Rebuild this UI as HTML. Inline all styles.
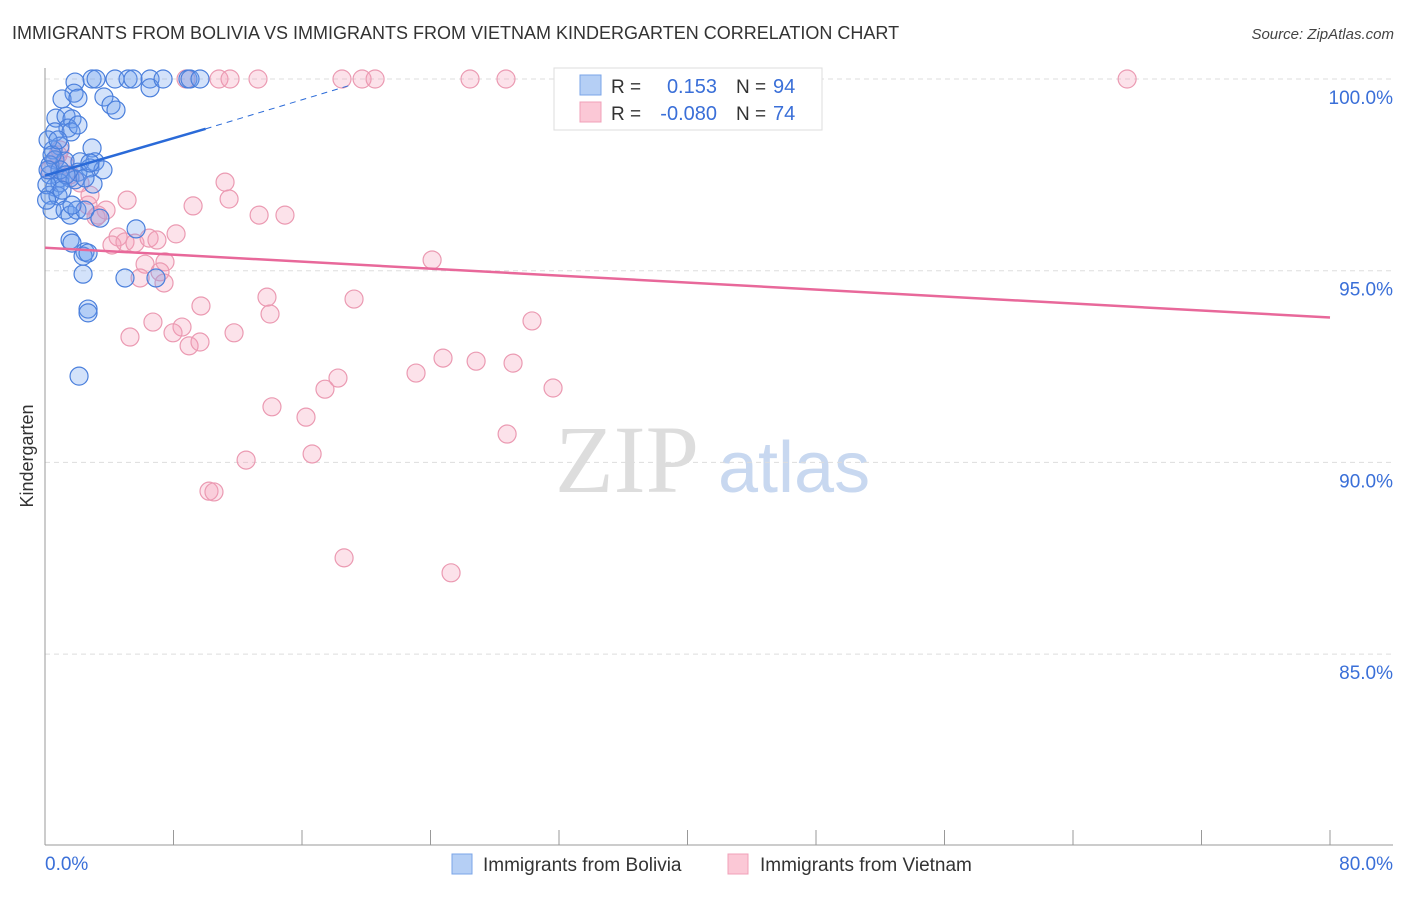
<!DOCTYPE html>
<html><head><meta charset="utf-8"><style>
body{margin:0;background:#fff;font-family:"Liberation Sans",sans-serif}
</style></head><body>
<svg id="chart" width="1406" height="892" xmlns="http://www.w3.org/2000/svg" font-family="Liberation Sans, sans-serif">
<text x="12" y="39" font-size="18" fill="#333">IMMIGRANTS FROM BOLIVIA VS IMMIGRANTS FROM VIETNAM KINDERGARTEN CORRELATION CHART</text>
<text x="1394" y="39" font-size="15" fill="#444" text-anchor="end" font-style="italic">Source: ZipAtlas.com</text>
<g>
<text x="555" y="492" font-size="96" font-family="Liberation Serif, serif" fill="#ddd">ZIP</text>
<text x="718" y="492" font-size="72" fill="#c8d8f0">atlas</text>
</g>
<g id="grid"></g>
<g id="axes"></g>
<g id="pts"></g>
<g id="trend"></g>
<text transform="translate(33,456) rotate(-90)" font-size="18" fill="#333" text-anchor="middle">Kindergarten</text>
<g>
<rect x="554" y="68" width="268" height="62" fill="#fff" stroke="#ddd"/>
<rect x="580" y="75" width="21" height="20" fill="#b5cff5" stroke="#7aa4e8"/>
<rect x="580" y="102" width="21" height="20" fill="#fbc8d6" stroke="#f0a0b8"/>
<text x="611" y="93" font-size="19" fill="#333">R =</text>
<text x="717" y="93" font-size="20" fill="#3a6fd8" text-anchor="end">0.153</text>
<text x="736" y="93" font-size="19" fill="#333">N =</text>
<text x="773" y="93" font-size="20" fill="#3a6fd8">94</text>
<text x="611" y="120" font-size="19" fill="#333">R =</text>
<text x="717" y="120" font-size="20" fill="#3a6fd8" text-anchor="end">-0.080</text>
<text x="736" y="120" font-size="19" fill="#333">N =</text>
<text x="773" y="120" font-size="20" fill="#3a6fd8">74</text>
</g>
<g>
<rect x="452" y="854" width="20" height="20" fill="#b5cff5" stroke="#7aa4e8"/>
<text x="483" y="871" font-size="19" fill="#333">Immigrants from Bolivia</text>
<rect x="728" y="854" width="20" height="20" fill="#fbc8d6" stroke="#f0a0b8"/>
<text x="760" y="871" font-size="19" fill="#333">Immigrants from Vietnam</text>
</g>
</svg>
<script>
const yTicks=[100,95,90,85];
const yTickLabels=["100.0%","95.0%","90.0%","85.0%"];
const xEnds=["0.0%","80.0%"];
const blueX=[1.87,2.93,3.18,4.36,5.17,5.48,6.54,6.54,7.35,8.90,9.03,9.65,1.81,1.06,2.05,3.67,4.11,4.42,0.68,1.31,1.68,1.43,0.62,1.62,2.05,0.93,2.93,0.50,0.62,1.25,2.18,3.11,2.80,3.61,0.31,0.93,1.56,2.05,2.99,0.62,0.93,0.31,0.81,0.44,1.25,1.56,1.99,2.49,3.42,5.67,1.56,1.68,2.49,2.37,2.68,2.37,4.98,6.91,2.68,2.68,2.12,0.31,0.12,0.93,1.87,0.19,0.44,0.1,0.81,1.31,2.49,1.06,1.68,2.80,0.19];
const blueY=[99.92,100,100,100,100,100,100,99.77,100,100,100,100,99.63,99.48,99.50,99.53,99.32,99.19,98.98,99.03,98.96,98.72,98.62,98.62,98.80,98.25,98.20,98.15,97.89,97.86,97.84,97.84,97.68,97.63,97.50,97.42,97.42,97.57,97.26,97.18,97.29,96.97,96.95,96.58,96.58,96.45,96.58,96.58,96.37,96.09,95.80,95.72,95.49,95.38,95.46,94.91,94.81,94.81,94.00,93.90,92.25,97.76,97.24,97.63,97.37,98.41,98.02,96.84,98.41,97.50,97.42,97.10,96.71,97.81,97.63];
const pinkX=[8.78,10.83,11.52,13.26,18.49,19.74,20.55,26.46,28.70,43.28,67.37,11.21,11.46,9.22,5.11,13.33,14.94,3.18,2.68,3.80,4.55,4.17,4.98,5.60,6.48,6.97,8.16,6.23,7.47,7.16,7.41,5.92,24.10,13.82,19.24,9.71,14.01,6.72,8.53,5.29,11.77,7.97,8.97,9.65,30.32,24.78,26.84,29.14,23.10,18.24,17.43,31.63,14.13,16.25,28.77,12.52,16.63,10.21,10.52,18.62,25.28,0.93,0.62,1.25,1.56,2.18,0.31,2.80,3.30,0.81];
const pinkY=[100,100,100,100,100,100,100,100,100,100,100,97.31,96.87,96.69,96.84,96.45,96.45,96.40,96.71,96.58,95.88,95.67,95.75,95.72,95.85,95.80,95.96,95.17,95.23,94.97,94.68,94.81,95.28,94.31,94.26,94.08,93.87,93.66,93.53,93.27,93.38,93.38,93.04,93.14,93.69,92.72,92.64,92.59,92.33,92.20,91.91,91.94,91.45,91.18,90.74,90.06,90.22,89.25,89.23,87.51,87.12,98.15,97.89,97.76,97.50,97.29,97.63,96.97,96.45,98.02];
const blueTrend=[[0,97.48],[10,98.7],[19.1,99.85]];
const pinkTrend=[[0,95.6],[80,93.78]];
const NS="http://www.w3.org/2000/svg";
const X=v=>45+v*16.0625;
const Y=v=>79+(100-v)*38.34;
function mk(p,t,a){const e=document.createElementNS(NS,t);for(const k in a)e.setAttribute(k,a[k]);document.getElementById(p).appendChild(e);return e;}
yTicks.forEach((t,i)=>{
 const l=mk('grid','line',{x1:45,x2:1393,y1:Y(t),y2:Y(t),stroke:'#ddd','stroke-dasharray':'5,4'});
 
 
 const tx=mk('grid','text',{x:1393,y:Y(t)+25,'font-size':19,fill:'#3a6fd8','text-anchor':'end'});
 tx.textContent=yTickLabels[i];
 
 
});
mk('axes','line',{x1:45,x2:45,y1:68,y2:845,stroke:'#999'});
mk('axes','line',{x1:45,x2:1393,y1:845,y2:845,stroke:'#999'});
for(let i=0;i<=10;i++){const t=mk('axes','line',{x1:X(i*8),x2:X(i*8),y1:830,y2:845,stroke:'#999'});
 
 }
const a0=mk('axes','text',{x:45,y:870,'font-size':19,fill:'#3a6fd8'});a0.textContent=xEnds[0];


const a1=mk('axes','text',{x:1393,y:870,'font-size':19,fill:'#3a6fd8','text-anchor':'end'});a1.textContent=xEnds[1];


pinkX.forEach((x,i)=>{const c=mk('pts','circle',{cx:X(x),cy:Y(pinkY[i]),r:9,fill:'rgba(245,160,185,0.3)',stroke:'#eb9ab2','stroke-width':1.2});
 
 });
blueX.forEach((x,i)=>{const c=mk('pts','circle',{cx:X(x),cy:Y(blueY[i]),r:9,fill:'rgba(110,160,240,0.3)',stroke:'#4a7fdc','stroke-width':1.2});
 
 });
const b1=mk('trend','line',{x1:X(blueTrend[0][0]),y1:Y(blueTrend[0][1]),x2:X(blueTrend[1][0]),y2:Y(blueTrend[1][1]),stroke:'#2a6ad8','stroke-width':2.5});


const b2=mk('trend','line',{x1:X(blueTrend[1][0]),y1:Y(blueTrend[1][1]),x2:X(blueTrend[2][0]),y2:Y(blueTrend[2][1]),stroke:'#2a6ad8','stroke-width':1,'stroke-dasharray':'6,5'});


const p1=mk('trend','line',{x1:X(pinkTrend[0][0]),y1:Y(pinkTrend[0][1]),x2:X(pinkTrend[1][0]),y2:Y(pinkTrend[1][1]),stroke:'#e8689a','stroke-width':2.5});


</script>
</body></html>
